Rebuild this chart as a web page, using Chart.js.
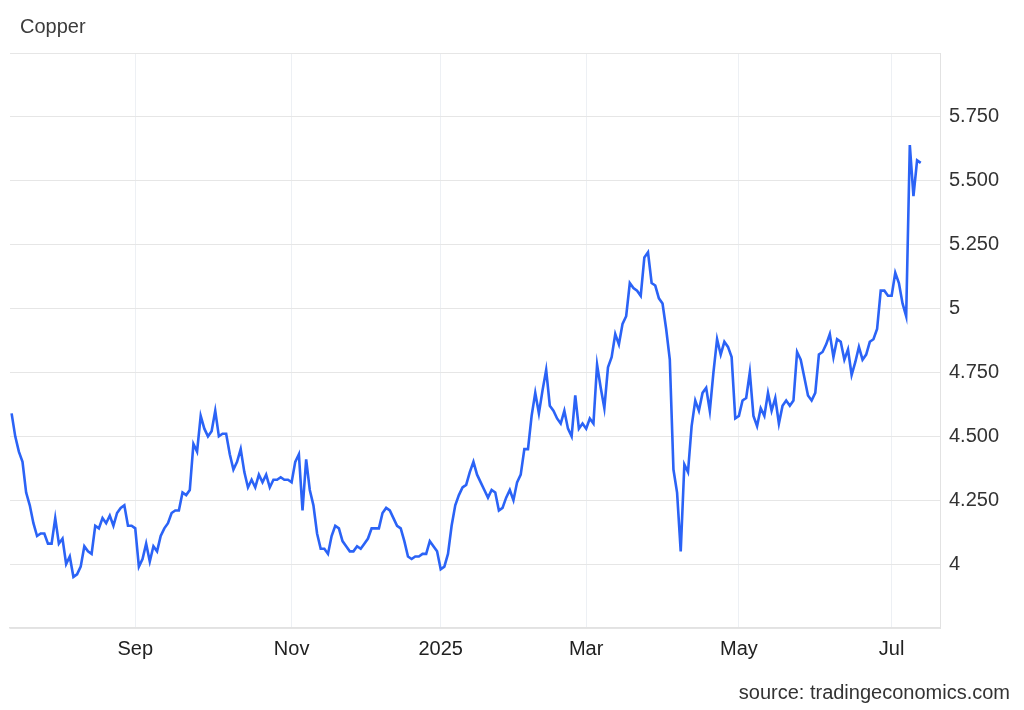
<!DOCTYPE html>
<html>
<head>
<meta charset="utf-8">
<title>Copper</title>
<script src="https://cdn.jsdelivr.net/npm/chart.js@4.4.1/dist/chart.umd.min.js"></script>
<style>
  html, body { margin: 0; padding: 0; background: #fff; }
  #wrap { position: relative; width: 1024px; height: 710px; font-family: "Liberation Sans", Arial, sans-serif; }
  #chart { position: absolute; left: 0; top: 0; }
  #title { position: absolute; left: 20px; top: 15px; font-size: 20px; line-height: 23px; color: #3c3c3c; }
  #source { position: absolute; right: 14px; top: 681px; font-size: 20px; line-height: 23px; color: #333; }
</style>
</head>
<body>
<div id="wrap">
  <canvas id="chart" width="1024" height="710"></canvas>
  <div id="title">Copper</div>
  <div id="source">source: tradingeconomics.com</div>
</div>
<script>
// ------------------------------------------------------------
// Медь, USD/lb — дневные значения (торговые дни)
// ------------------------------------------------------------
const START_DATE = "2024-07-16";
// биржевые выходные, которых нет в ряду
const HOLIDAYS = ["2024-09-02", "2024-11-28", "2024-12-25", "2025-01-01",
  "2025-01-20", "2025-02-17", "2025-04-18", "2025-05-26"];

const PRICES = [
  // jul-aug 2024
  4.59, 4.50, 4.44, 4.40, 4.28, 4.23, 4.16, 4.11, 4.12, 4.12,
  4.08, 4.08, 4.18, 4.08, 4.10, 4.00, 4.03, 3.95, 3.96, 3.99,
  4.07, 4.05, 4.04, 4.15, 4.14, 4.18, 4.16, 4.19, 4.15, 4.20,
  4.22, 4.23, 4.15, 4.15,
  // sep-oct
  4.14, 3.99, 4.02, 4.08, 4.01, 4.07, 4.05, 4.11, 4.14, 4.16,
  4.20, 4.21, 4.21, 4.28, 4.27, 4.29, 4.47, 4.44, 4.58, 4.53,
  4.50, 4.52, 4.60, 4.50, 4.51, 4.51, 4.43, 4.37, 4.40, 4.45,
  4.36, 4.30, 4.33, 4.30, 4.35, 4.32, 4.35, 4.30, 4.33, 4.33,
  4.34, 4.33, 4.33,
  // nov-dec
  4.32, 4.40, 4.43, 4.21, 4.41, 4.29, 4.23, 4.12, 4.06, 4.06,
  4.04, 4.11, 4.15, 4.14, 4.09, 4.07, 4.05, 4.05, 4.07, 4.06,
  4.08, 4.10, 4.14, 4.14, 4.14, 4.20, 4.22, 4.21, 4.18, 4.15,
  4.14, 4.09, 4.03, 4.02, 4.03, 4.03, 4.04, 4.04, 4.09, 4.07,
  4.05,
  // jan-feb 2025
  3.98, 3.99, 4.04, 4.15, 4.23, 4.27, 4.30, 4.31, 4.36, 4.40,
  4.35, 4.32, 4.29, 4.26, 4.29, 4.28, 4.21, 4.22, 4.26, 4.29,
  4.25, 4.32, 4.35, 4.45, 4.45, 4.58, 4.67, 4.59, 4.68, 4.76,
  4.62, 4.60, 4.57, 4.55, 4.60, 4.53, 4.50, 4.66, 4.53, 4.55,
  // mar-apr
  4.53, 4.57, 4.55, 4.78, 4.69, 4.61, 4.77, 4.81, 4.90, 4.86,
  4.94, 4.97, 5.10, 5.08, 5.07, 5.05, 5.20, 5.22, 5.10, 5.09,
  5.04, 5.02, 4.92, 4.80, 4.37, 4.28, 4.05, 4.39, 4.36, 4.54,
  4.64, 4.60, 4.67, 4.69, 4.60, 4.75, 4.88, 4.82, 4.87, 4.85,
  4.81, 4.57,
  // may-jun
  4.58, 4.64, 4.65, 4.75, 4.58, 4.54, 4.61, 4.58, 4.67, 4.60,
  4.65, 4.55, 4.62, 4.64, 4.62, 4.64, 4.83, 4.80, 4.73, 4.66,
  4.64, 4.67, 4.82, 4.83, 4.86, 4.90, 4.81, 4.88, 4.87, 4.80,
  4.84, 4.74, 4.79, 4.85, 4.80, 4.82, 4.87, 4.88, 4.92, 5.07,
  5.07, 5.05,
  // jul
  5.05, 5.14, 5.10, 5.02, 4.97, 5.64, 5.44, 5.58, 5.57,
];

const TICK_MONTHS = ["2024-09", "2024-11", "2025-01", "2025-03", "2025-05", "2025-07"];
const TICK_LABELS = ["Sep", "Nov", "2025", "Mar", "May", "Jul"];
const Y_TICKS = [4, 4.25, 4.5, 4.75, 5, 5.25, 5.5, 5.75];
const Y_MIN = 3.75, Y_MAX = 6;

// торговые дни: будни без праздников, столько же, сколько цен
function tradingDays(start, count) {
  const out = [];
  const d = new Date(start + "T00:00:00Z");
  while (out.length < count) {
    const iso = d.toISOString().slice(0, 10);
    const wd = d.getUTCDay();
    if (wd !== 0 && wd !== 6 && !HOLIDAYS.includes(iso)) out.push(iso);
    d.setUTCDate(d.getUTCDate() + 1);
  }
  return out;
}

const DATES = tradingDays(START_DATE, PRICES.length);
// первая торговая дата каждого подписанного месяца
const tickIdx = TICK_MONTHS.map((m) => DATES.findIndex((d) => d.startsWith(m)));
const tickLabel = {};
tickIdx.forEach((k, i) => { tickLabel[k] = TICK_LABELS[i]; });

function fmtPrice(v) {
  return Number.isInteger(v) ? String(v) : v.toFixed(3);
}

const font = { family: "'Liberation Sans', Arial, sans-serif", size: 20 };

new Chart(document.getElementById("chart"), {
  type: "line",
  data: {
    datasets: [{
      label: "Copper",
      data: PRICES.map((v, i) => ({ x: i, y: v })),
      borderColor: "#2b63f6",
      borderWidth: 2.6,
      pointRadius: 0,
      tension: 0,
    }],
  },
  options: {
    responsive: false,
    animation: false,
    devicePixelRatio: 1,
    layout: { padding: { left: 10, top: 53, right: 0, bottom: 0 } },
    plugins: { legend: { display: false }, tooltip: { enabled: false } },
    scales: {
      x: {
        type: "linear",
        min: -0.44,
        max: 255.3,
        afterBuildTicks: (s) => { s.ticks = tickIdx.map((k) => ({ value: k })); },
        afterFit: (s) => { s.height = 82; },
        ticks: {
          autoSkip: false, maxRotation: 0, padding: 9,
          color: "#222", font,
          callback: (v) => tickLabel[v] || "",
        },
        grid: { color: "#edf0f4", drawTicks: false },
        border: { color: "#e2e2e2", width: 1.5 },
      },
      y: {
        position: "right",
        min: Y_MIN,
        max: Y_MAX,
        afterBuildTicks: (s) => {
          s.ticks = [Y_MIN, ...Y_TICKS, Y_MAX].map((v) => ({ value: v }));
        },
        afterFit: (s) => { s.width = 84; },
        ticks: {
          padding: 9, color: "#333", font,
          callback: (v) => (Y_TICKS.includes(v) ? fmtPrice(v) : ""),
        },
        grid: { color: "#e6e6e6", drawTicks: false },
        border: { color: "#e2e2e2" },
      },
    },
  },
});
</script>
</body>
</html>
